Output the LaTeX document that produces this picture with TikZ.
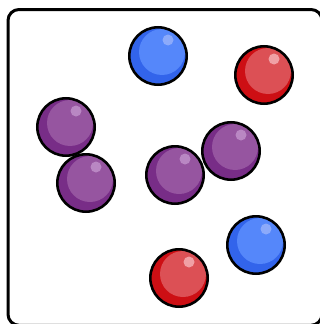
\documentclass[tikz,border=0pt]{standalone}
\usetikzlibrary{calc}
\definecolor{bluebase}{RGB}{50,100,235}
\definecolor{bluein}{RGB}{85,135,250}
\definecolor{bluehi}{RGB}{140,170,250}
\definecolor{redbase}{RGB}{205,15,20}
\definecolor{redin}{RGB}{220,80,85}
\definecolor{redhi}{RGB}{240,160,165}
\definecolor{purbase}{RGB}{120,45,135}
\definecolor{purin}{RGB}{150,85,160}
\definecolor{purhi}{RGB}{185,135,195}
\tikzset{
  boxframe/.style={draw=black,line width=3pt,rounded corners=11pt},
  ballout/.style={draw=black,line width=2.6pt},
  pics/ball/.style={code={
    \fill[#1base] (0,0) circle (28.7);
    \fill[#1in] (4,-4) circle (23);
    \fill[#1hi] (10,-16) circle (5.5);
    \draw[ballout] (0,0) circle (28.7);
  }}
}
\begin{document}
\begin{tikzpicture}[x=1pt,y=-1pt]
\useasboundingbox (0,0) rectangle (320,324);
\clip (0,0) rectangle (320,324);
\fill[white] (0,0) rectangle (320,324);
\draw[boxframe] (8,9.5) rectangle (322,325.3);
\pic at (158,56) {ball=blue};
\pic at (264,75) {ball=red};
\pic at (66,127) {ball=pur};
\pic at (86,183) {ball=pur};
\pic at (175,175) {ball=pur};
\pic at (231,151) {ball=pur};
\pic at (256,245) {ball=blue};
\pic at (179,278) {ball=red};
\end{tikzpicture}
\end{document}
